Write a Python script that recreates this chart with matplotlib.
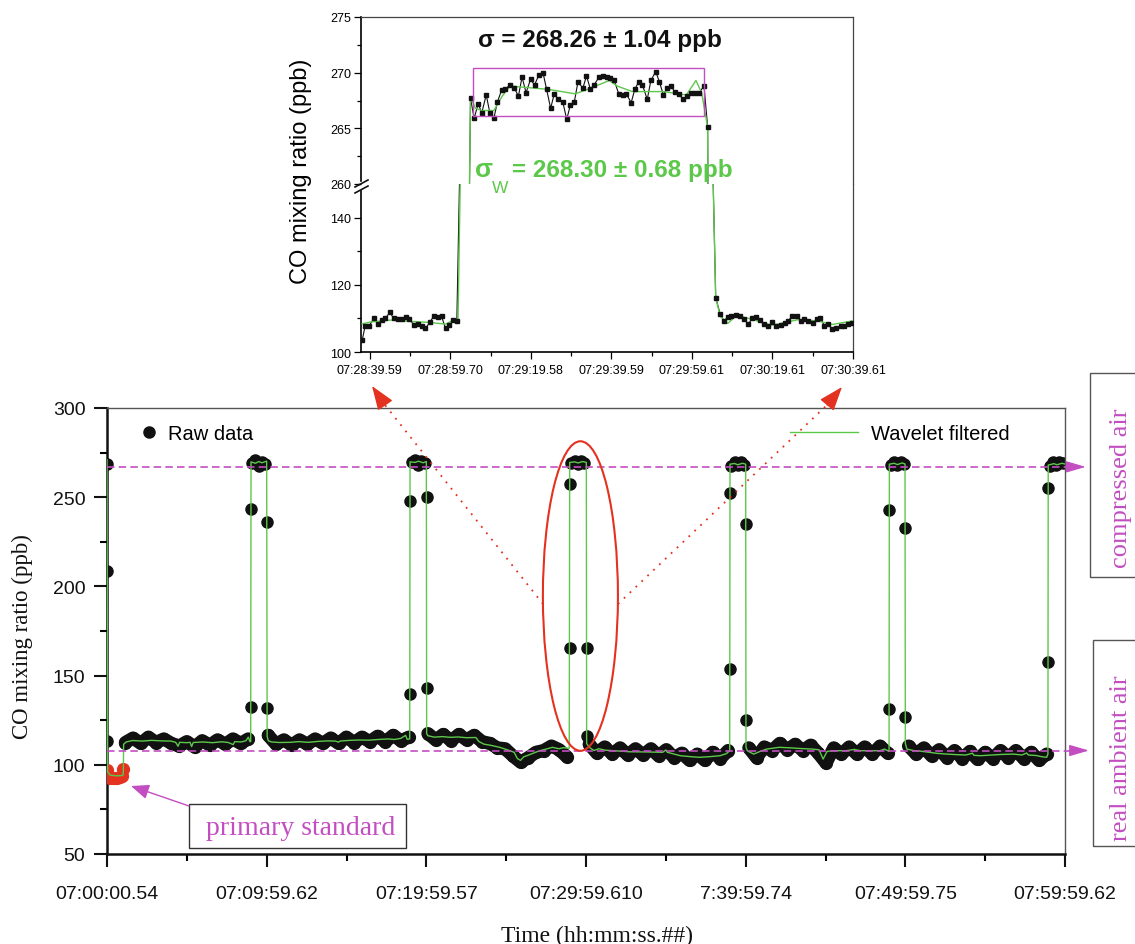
import numpy as np
import matplotlib
matplotlib.use("Agg")
import matplotlib.pyplot as plt
from matplotlib.patches import Ellipse, Rectangle, FancyArrowPatch
from matplotlib.lines import Line2D
from matplotlib.ticker import MultipleLocator

plt.rcParams['font.family'] = ['Liberation Sans', 'DejaVu Sans']

# ---------------- main panel data (time in minutes after 07:00:00.54) ----------------
xtick_labels = ['07:00:00.54', '07:09:59.62', '07:19:59.57', '07:29:59.610',
                '7:39:59.74', '07:49:59.75', '07:59:59.62']

# ambient air stretches between the cylinder pulses (start, end, values)
base_spans = [(1.15, 8.85), (10.1, 18.9), (20.1, 28.8), (30.2, 38.9), (40.2, 48.9), (50.2, 58.85)]
base1 = [112.5, 115, 112, 115.5, 112.5, 114.5, 112, 110.5, 113, 110, 113.5, 111, 114, 111.5, 114.5, 112, 114.5]
base2 = [116.5, 111.5, 114, 111, 114, 111.5, 114.5, 112, 115, 112, 115.5, 112.5, 115.5, 113, 116, 113, 116.5, 113.5, 115.5]
base3 = [117.5, 114, 117, 113.5, 117, 114, 116.5, 113, 112, 109.5, 109, 105, 101.5, 104, 107, 108, 110.5, 108.5, 104.5]
base4 = [111.5, 106.5, 110, 106, 109.5, 105.5, 109, 105.5, 109, 105, 108.5, 104, 106.5, 102.5, 106, 102.5, 107, 103.5, 108]
base5 = [109.5, 104, 110, 108, 112, 108.5, 111.5, 108, 111, 106.5, 101, 109.5, 106, 110, 106, 110, 106, 110.5, 106.5]
base6 = [110.5, 106, 109.5, 105, 108.5, 104, 108, 103.5, 107.5, 103, 107, 103.5, 108, 104, 108, 103.5, 107, 102.5, 106]
base_values = [base1, base2, base3, base4, base5, base6]

# compressed air pulses
rise_t = [9.0, 18.99, 28.99, 39.01, 49.0, 58.95]
rise_lo = [132.6, 139.7, 165.3, 153.7, 131.3, 157.6]
rise_hi = [243.4, 247.7, 257.4, 252.4, 243.0, 255.2]
fall_t = [10.04, 20.02, 30.04, 40.01, 50.0]
fall_hi = [235.9, 249.9, 165.5, 235.0, 232.7]
fall_lo = [131.8, 142.9, 116.3, 125.3, 126.6]
plateau_dt = [0.1, 0.3, 0.5, 0.7, 0.9]
plateau_v = [[269, 271, 267.5, 270, 268.5],
             [269.5, 271, 268, 270.5, 269],
             [269, 270.5, 268.5, 270.5, 269],
             [267.5, 269.5, 268, 269.5, 268],
             [268, 269.5, 268, 270, 268.5],
             [267.5, 269.5, 268, 270, 269]]

# first seconds of the record
start_t = [0.0, 0.0, 0.0]
start_v = [268.6, 208.8, 113.2]

# primary standard (red)
std_t = [0.03, 0.05, 0.2, 0.35, 0.5, 0.65, 0.8, 0.95, 1.0]
std_v = [97, 93, 92.5, 92.5, 92.5, 92.5, 93, 93.5, 97.5]

# wavelet filtered signal
wave_t = [0.0, 0.04, 0.2, 0.6, 0.95, 1.02, 1.04,
          1.2, 1.6, 2.2, 2.8, 3.4, 4.0, 4.3, 4.45, 4.55, 5.0, 5.2, 5.3, 5.4, 6.0, 6.6, 7.2, 7.6, 7.9, 8.0, 8.4, 8.7, 8.85, 8.95,
          9.0, 9.02, 9.3, 9.5, 9.7, 10.0, 10.03,
          10.1, 10.3, 10.8, 11.5, 12.0, 12.6, 13.2, 13.8, 14.3, 14.5, 14.6, 15.2, 15.8, 16.4, 17.0, 17.6, 18.0, 18.4, 18.7, 18.8, 18.96,
          18.98, 19.3, 19.5, 19.8, 20.0, 20.02,
          20.1, 20.5, 21.0, 21.5, 22.0, 22.5, 23.1, 23.3, 23.6, 24.1, 24.6, 25.2, 25.5, 25.7, 25.9, 26.1, 26.3, 26.7, 27.1, 27.5, 27.9, 28.3, 28.6, 28.95,
          28.98, 29.3, 29.5, 29.8, 30.02, 30.04,
          30.2, 30.5, 30.8, 31.2, 31.7, 32.3, 32.75, 33.8, 34.8, 35.0, 35.1, 35.9, 36.5, 37.1, 37.8, 38.4, 38.8, 39.0,
          39.02, 39.3, 39.5, 39.8, 40.0, 40.02,
          40.1, 40.5, 40.9, 41.3, 42.1, 42.8, 43.5, 44.2, 44.6, 44.85, 45.1, 45.5, 46.3, 46.8, 47.2, 48.4, 48.7, 48.98,
          49.0, 49.3, 49.5, 49.8, 49.98, 50.0,
          50.1, 50.5, 51.0, 51.5, 52.0, 52.6, 53.2, 53.8, 54.2, 54.3, 54.7, 55.4, 56.0, 56.75, 57.3, 57.6, 57.7, 58.2, 58.5, 58.85, 58.93,
          58.95, 59.3, 59.5, 59.8, 60.0]
wave_v = [271, 96, 94.2, 93.8, 94, 94.5, 111.5,
          112.8, 113.6, 113.3, 113.7, 113.4, 113.3, 112.6, 110.4, 112.6, 112.4, 112.6, 110.2, 112.5, 112.8, 112.4, 112.9, 112.5, 111.3, 113, 112.8, 113.5, 115.5, 113,
          113, 269.8, 269, 270, 269.3, 270.2, 116,
          113.5, 112.8, 112.5, 112.6, 113, 112.6, 113.1, 113.4, 113.3, 112.7, 113.3, 113.7, 113.9, 113.8, 114.2, 114.5, 114.2, 114.8, 116.5, 114.3, 114.5,
          269.8, 269.5, 270.2, 269.3, 270, 117.5,
          116.3, 115.5, 115.8, 115.4, 115.6, 115.2, 115.3, 113, 111.6, 110.8, 109.8, 108, 107, 103.5, 102.5, 104.5, 105.1, 106.5, 107.9, 108.8, 109.8, 109, 109.6, 109.2,
          269.5, 269.8, 269.2, 270, 269.5, 112,
          109.8, 108, 109, 108.2, 107.9, 107.6, 107.3, 107.2, 107, 108.3, 107, 105.1, 104.6, 104.2, 104.6, 105.1, 106.3, 107.9,
          268.5, 268.9, 268.2, 269, 268.5, 110,
          107.9, 106, 107.5, 108.8, 109.8, 109.5, 109.1, 108.8, 108.4, 103.2, 107.5, 107.9, 107.9, 108.6, 107.9, 107.9, 108.8, 107.5,
          268.5, 269, 268.3, 269.2, 268.6, 112,
          108.8, 108, 107.6, 107, 106.4, 106, 105.7, 105.5, 106.5, 105.3, 105.1, 105.5, 105.8, 106, 105.5, 106.6, 105.5, 105.2, 104.6, 104.2, 106,
          268, 268.8, 268.2, 269, 268.6]

compressed_level = 267
ambient_level = 108

# ---------------- inset data (seconds after 07:28:39.59) ----------------
inset_labels = ['07:28:39.59', '07:28:59.70', '07:29:19.58', '07:29:39.59',
                '07:29:59.61', '07:30:19.61', '07:30:39.61']
inset_t = [-1.9, -1.2, -0.3, 1.0, 1.9, 2.9, 3.8, 5.0, 5.9, 6.9, 7.9, 8.9, 9.8, 11.0, 11.9, 12.9, 13.8,
           15.0, 15.9, 16.9, 17.8, 18.8, 19.7, 20.7, 21.6,
           23.3,
           25.0, 25.9, 26.9, 27.8, 28.9, 29.8, 30.8, 31.7, 32.7, 33.6, 34.8, 35.9, 36.9, 37.8, 38.8, 39.9,
           40.9, 42.0, 43.0, 43.9, 44.9, 45.8, 46.8, 47.9, 48.9, 49.8, 50.8, 51.7, 52.9, 53.8, 54.8, 55.7,
           56.9, 57.8, 58.8, 59.7, 60.7, 61.8, 62.8, 63.7, 64.9, 65.8, 66.8, 67.7, 68.9, 69.8, 71.0, 71.9,
           72.9, 73.8, 74.8, 75.7, 76.7, 77.8, 78.8, 79.7, 80.7, 81.8, 83.0, 83.9,
           85.0,
           85.9, 87.0, 87.9, 88.9, 89.8, 91.0, 91.9, 92.9, 94.0, 95.0, 95.9, 96.9, 98.0, 99.0, 99.9, 100.9,
           102.0, 103.0, 103.9, 104.9, 106.0, 107.0, 107.9, 108.9, 110.0, 111.0, 111.9, 112.9, 113.8, 114.8,
           115.9, 116.9, 117.8, 118.8, 119.7]
inset_v = [103.5, 107.6, 107.6, 110.0, 108.3, 109.5, 110.0, 111.8, 110.0, 109.8, 109.7, 110.4, 109.8, 108.0,
           108.3, 107.8, 107.0, 109.0, 110.8, 110.3, 110.6, 107.0, 108.0, 109.5, 109.3,
           215,
           267.7, 265.9, 267.2, 266.4, 268.0, 266.4, 265.9, 267.4, 268.4, 268.5, 268.9, 268.6, 267.9, 269.6, 268.2,
           269.4, 268.9, 269.8, 270.0, 268.5, 266.8, 268.1, 267.6, 267.4, 265.8, 267.1, 267.4, 269.2, 268.6, 269.7,
           268.5, 268.9, 269.6, 269.7, 269.6, 269.5, 269.3, 268.1, 268.0, 268.1, 267.3, 268.5, 269.2, 268.9, 267.6,
           269.3, 270.1, 269.2, 268.0, 268.6, 268.8, 268.3, 268.1, 267.6, 267.9, 268.2, 268.2, 268.2, 268.8, 265.1,
           165,
           116.2, 111.3, 109.3, 110.3, 110.6, 111.1, 110.6, 109.8, 108.3, 110.1, 110.3, 109.6, 108.3, 107.6, 108.9,
           107.6, 108.1, 108.6, 109.3, 110.6, 110.8, 109.3, 109.9, 109.3, 108.6, 109.9, 110.1, 107.8, 108.3, 106.8,
           107.1, 107.6, 107.8, 108.3, 108.6]
inwave_t = [-1.9, 0.5, 5.2, 10.0, 14.8, 18.8, 21.0, 21.9, 23.3, 25.0, 26.2, 27.8, 30.8, 32.9, 34.8, 44.3,
            51.0, 54.8, 59.5, 61.4, 65.2, 72.9, 78.6, 81.0, 82.4, 83.9, 85.0, 85.9, 87.1, 88.9, 91.0,
            94.8, 99.5, 101.4, 106.2, 111.0, 114.8, 119.7]
inwave_v = [108.4, 109, 109.5, 109.1, 108.8, 108.3, 109.6, 109.6, 215, 267.8, 266.8, 266.6, 266.6, 267.9,
            268.8, 268.5, 268.1, 268.6, 269.3, 268.8, 268.3, 268.3, 268.0, 269.3, 268.2, 265.1, 165, 116,
            110.5, 108.5, 110.8, 109.8, 108.0, 108.3, 109.6, 109.3, 108.2, 109.2]
box_t = (25.5, 82.9)
box_v = (266.15, 270.45)

# ---------------- colours ----------------
mag = '#c24ec2'
green = '#5cc84a'
red = '#e3321f'
black = '#111111'

W, H = 1135, 945
fig = plt.figure(figsize=(W / 100, H / 100), dpi=100)


def fx(px):
    return px / W


def fy(py):
    return 1 - py / H


# ---------------- main axes ----------------
ax = fig.add_axes([fx(107), fy(855), (1065 - 107) / W, (855 - 409) / H])

# overlapping raw points form a thick band along each ambient stretch
for (t0, t1), vals in zip(base_spans, base_values):
    bt = np.linspace(t0, t1, len(vals))
    ax.plot(bt, vals, '-', color=black, lw=9.5, solid_capstyle='round', solid_joinstyle='round', zorder=2)
    ax.plot(bt, vals, 'o', color=black, ms=8.5, zorder=2)

pulse_t = list(start_t)
pulse_v = list(start_v)
for i, t in enumerate(rise_t):
    pulse_t += [t, t] + [t + d for d in plateau_dt]
    pulse_v += [rise_lo[i], rise_hi[i]] + plateau_v[i]
pulse_t += fall_t + fall_t
pulse_v += fall_hi + fall_lo
ax.plot(pulse_t, pulse_v, 'o', color=black, ms=8, zorder=2)

ax.plot(std_t, std_v, 'o', color=red, ms=8.5, zorder=3)
ax.plot(std_t[1:-1], std_v[1:-1], '-', color=red, lw=7, solid_capstyle='round', zorder=3)
ax.plot(wave_t, wave_v, color=green, lw=1.0, zorder=4)

ax.set_xlim(0, 60)
ax.set_ylim(50, 300)
ax.set_xticks(range(0, 61, 10))
ax.set_xticklabels(xtick_labels)
ax.xaxis.set_minor_locator(MultipleLocator(5))
ax.yaxis.set_major_locator(MultipleLocator(50))
ax.yaxis.set_minor_locator(MultipleLocator(25))
ax.tick_params(which='major', direction='out', length=9.5, width=1.5, labelsize=14, colors=black)
ax.tick_params(axis='x', which='major', pad=13)
ax.tick_params(axis='y', which='major', pad=6)
ax.tick_params(which='minor', direction='out', length=5, width=1.5)
for s in ('left', 'bottom'):
    ax.spines[s].set_linewidth(1.8)
    ax.spines[s].set_color(black)
for s in ('top', 'right'):
    ax.spines[s].set_linewidth(1.0)
    ax.spines[s].set_color('#555555')

# reference levels with arrows
for lvl, tip in ((compressed_level, 61.3), (ambient_level, 61.5)):
    ax.plot([0, tip - 0.9], [lvl, lvl], color=mag, lw=1.2, ls=(0, (4.5, 2.5)), clip_on=False, zorder=5)
    ax.annotate('', xy=(tip, lvl), xytext=(tip - 1.1, lvl),
                arrowprops=dict(arrowstyle='-|>,head_length=1.2,head_width=0.35', color=mag, lw=1.0,
                                shrinkA=0, shrinkB=0), annotation_clip=False)

ax.add_patch(Ellipse((29.65, 194.6), 4.7, 173.5, fill=False, edgecolor=red, lw=1.5, zorder=6))

h_raw = Line2D([], [], ls='none', marker='o', color=black, ms=8)
h_wav = Line2D([], [], color=green, lw=1.0)
leg1 = ax.legend([h_raw], ['Raw data'], loc='center left', bbox_to_anchor=((139 - 107) / 958, (855 - 435) / 446),
                 frameon=False, fontsize=14.5, handlelength=1.0, handletextpad=0.45, borderpad=0, borderaxespad=0)
ax.add_artist(leg1)
ax.legend([h_wav], ['Wavelet filtered'], loc='center left', bbox_to_anchor=((790 - 107) / 958, (855 - 435) / 446),
          frameon=False, fontsize=14.5, handlelength=3.4, handletextpad=0.6, borderpad=0, borderaxespad=0)

fig.text(fx(22), fy(637), 'CO mixing ratio (ppb)', rotation=90, ha='center', va='center',
         family='Liberation Serif', fontsize=16.5, color=black)
fig.text(fx(597), fy(936), 'Time (hh:mm:ss.##)', ha='center', va='center',
         family='Liberation Serif', fontsize=17, color=black)

# ---------------- side labels ----------------
for (top, bot, left, label, cy) in ((374, 578, 1090, 'compressed air', 488),
                                    (641, 847, 1093, 'real ambient air', 758)):
    fig.add_artist(Rectangle((fx(left), fy(bot)), (1160 - left) / W, (bot - top) / H, transform=fig.transFigure,
                             fill=False, edgecolor='#555555', lw=1.0))
    fig.text(fx(1121), fy(cy), label, rotation=90, ha='center', va='center',
             family='Liberation Serif', fontsize=19, color=mag)

fig.add_artist(Rectangle((fx(189), fy(849)), (406 - 189) / W, (849 - 805) / H, transform=fig.transFigure,
                         fill=False, edgecolor='#333333', lw=1.0))
fig.text(fx(301), fy(829), 'primary standard', ha='center', va='center',
         family='Liberation Serif', fontsize=20, color=mag)
fig.add_artist(FancyArrowPatch((fx(189), fy(807)), (fx(131), fy(787)), transform=fig.transFigure,
                               arrowstyle='-|>,head_length=1.1,head_width=0.45', mutation_scale=10,
                               color=mag, lw=1.0, shrinkA=0, shrinkB=0))

# dotted red lines from the ellipse to the inset
for (x0, y0), (x1, y1), (xb, yb) in (((543, 605), (372, 387), (385, 406)),
                                     ((618, 605), (842, 388), (827, 406))):
    fig.add_artist(Line2D([fx(x0), fx(xb)], [fy(y0), fy(yb)], transform=fig.transFigure,
                          color=red, lw=1.3, ls=(0, (1, 3.5))))
    fig.add_artist(FancyArrowPatch((fx(xb), fy(yb)), (fx(x1), fy(y1)), transform=fig.transFigure,
                                   arrowstyle='-|>,head_length=1.5,head_width=0.55', mutation_scale=10,
                                   color=red, lw=1.0, shrinkA=0, shrinkB=0))

# ---------------- inset (broken y axis) ----------------
ax_hi = fig.add_axes([fx(361), fy(185), (853 - 361) / W, (185 - 18) / H])
ax_lo = fig.add_axes([fx(361), fy(353), (853 - 361) / W, (353 - 185) / H])

for a in (ax_hi, ax_lo):
    a.plot(inset_t, inset_v, color=black, lw=0.8, zorder=2)
    a.plot(inwave_t, inwave_v, color=green, lw=1.0, zorder=3)
    a.plot(inset_t, inset_v, 's', color=black, ms=3.3, zorder=4)
    a.set_xlim(-2.2, 120)
    a.tick_params(which='major', direction='out', length=5, width=0.9, labelsize=9, pad=2)
    a.tick_params(which='minor', direction='out', length=3, width=0.9)
    for s in ('left', 'bottom'):
        a.spines[s].set_linewidth(1.2)
    for s in ('top', 'right'):
        a.spines[s].set_linewidth(0.9)
        a.spines[s].set_color('#444444')

ax_hi.set_ylim(260, 275)
ax_hi.yaxis.set_major_locator(MultipleLocator(5))
ax_hi.yaxis.set_minor_locator(MultipleLocator(2.5))
ax_hi.spines['bottom'].set_visible(False)
ax_hi.spines['left'].set_bounds(260.3, 275)
ax_hi.set_xticks([])
ax_hi.add_patch(Rectangle((box_t[0], box_v[0]), box_t[1] - box_t[0], box_v[1] - box_v[0],
                          fill=False, edgecolor=mag, lw=1.0, zorder=5))

ax_lo.set_ylim(100, 150)
ax_lo.set_yticks([100, 120, 140])
ax_lo.yaxis.set_minor_locator(MultipleLocator(10))
ax_lo.spines['top'].set_visible(False)
ax_lo.spines['left'].set_bounds(100, 148)
ax_lo.set_xticks(range(0, 121, 20))
ax_lo.set_xticklabels(inset_labels)
ax_lo.xaxis.set_minor_locator(MultipleLocator(10))
ax_lo.tick_params(axis='x', which='major', pad=4)

for dy in (0, 6):
    fig.add_artist(Line2D([fx(355), fx(368)], [fy(188 + dy), fy(181 + dy)], transform=fig.transFigure,
                          color=black, lw=1.2))

fig.text(fx(301), fy(171), 'CO mixing ratio (ppb)', rotation=90, ha='center', va='center', fontsize=17)
fig.text(fx(600), fy(40), 'σ = 268.26 ± 1.04 ppb', ha='center', va='center', fontsize=17.5,
         fontweight='bold', color=black)
fig.text(fx(475), fy(170), 'σ', ha='left', va='center', fontsize=19, fontweight='bold', color=green)
fig.text(fx(492), fy(189), 'W', ha='left', va='center', fontsize=12.5, color=green)
fig.text(fx(512), fy(170), '= 268.30 ± 0.68 ppb', ha='left', va='center', fontsize=17.5,
         fontweight='bold', color=green)

fig.savefig('out.png', dpi=100)
